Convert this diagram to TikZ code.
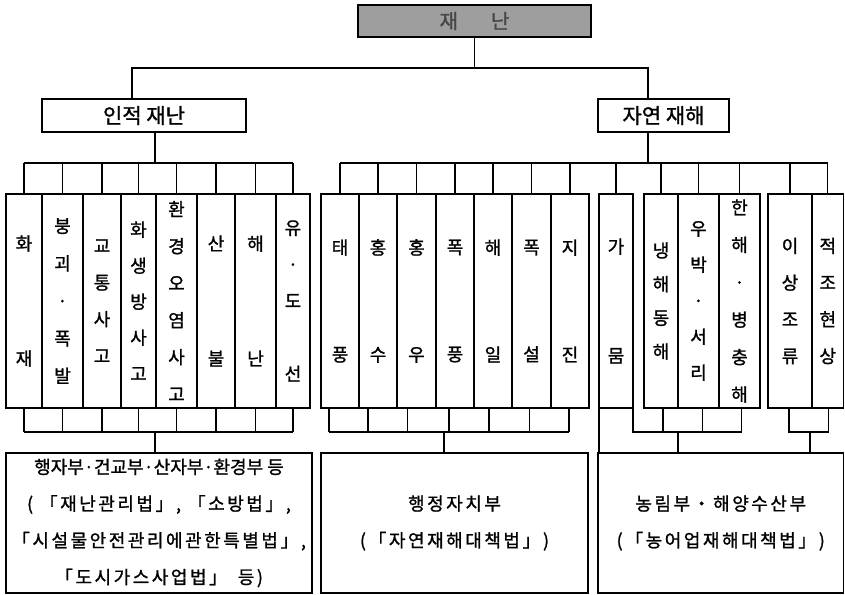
\documentclass[tikz,border=0pt]{standalone}
\usepackage{fontspec}
\setmainfont{Noto Sans CJK KR}[FakeBold=1.2]
\newfontfamily\lawfont{Noto Sans CJK KR}[FakeBold=1.2, LetterSpace=14]
\usetikzlibrary{calc}
\definecolor{topfill}{RGB}{158,158,158}
\definecolor{toptext}{RGB}{70,70,70}
\tikzset{
  conn/.style={line width=1.2pt},
  box/.style={draw, line width=1.2pt, rectangle, inner sep=0pt, outer sep=0pt},
  vbox/.style={box, minimum height=214pt, align=center},
  lawbox/.style={box, minimum height=140pt, align=center, font=\lawfont\fontsize{18}{36.7}\selectfont},
}
\newcommand\vbx[5]{\node[vbox, minimum width={#3-#2}, font={\fontsize{18}{#5}\selectfont}] (#1) at ({(#2+#3)/2},301) {#4};}
\begin{document}
\begin{tikzpicture}[x=1pt,y=-1pt]
\useasboundingbox (0,0) rectangle (845,594);
% top
\node[box, line width=2.2pt, fill=topfill, minimum width=233pt, minimum height=32pt,
      font=\fontsize{20}{22}\selectfont, text=toptext] (top) at (474.5,21) {재\hspace{33pt}난};
\node[box, minimum width=204pt, minimum height=33pt, font=\fontsize{21}{24}\selectfont] (inj) at (144,115.5) {인적 재난};
\node[box, minimum width=131pt, minimum height=33pt, font=\fontsize{21}{24}\selectfont] (nat) at (663.5,115.5) {자연 재해};
% left group
\vbx{b1}{6}{42}{화\\재}{115}
\vbx{b2}{42}{83}{붕\\괴\\·\\폭\\발}{37.5}
\vbx{b3}{83}{121}{교\\통\\사\\고}{36.7}
\vbx{b4}{121}{156}{화\\생\\방\\사\\고}{36}
\vbx{b5}{156}{197}{환\\경\\오\\염\\사\\고}{37}
\vbx{b6}{197}{235}{산\\불}{115}
\vbx{b7}{235}{276}{해\\난}{115}
\vbx{b8}{276}{310}{유\\·\\도\\\mbox{}\\선}{36.5}
% middle group
\vbx{m1}{321}{359}{태\\풍}{107}
\vbx{m2}{359}{397}{홍\\수}{107}
\vbx{m3}{397}{436}{홍\\우}{107}
\vbx{m4}{436}{474}{폭\\풍}{107}
\vbx{m5}{474}{512}{해\\일}{107}
\vbx{m6}{512}{551}{폭\\설}{107}
\vbx{m7}{551}{589}{지\\진}{107}
% right groups
\vbx{ga}{599}{633}{가\\뭄}{109}
\vbx{g1}{644}{678}{냉\\해\\동\\해}{33.7}
\vbx{g2}{678}{719}{우\\박\\·\\서\\리}{36}
\vbx{g3}{719}{760}{한\\해\\·\\병\\충\\해}{37.4}
\vbx{g4}{768}{812}{이\\상\\조\\류}{36.7}
\vbx{g5}{812}{843.5}{적\\조\\현\\상}{36.7}
% law boxes
\node[lawbox, minimum width=306pt] (L1) at (159,523)
  {{\rmfamily 행자부·건교부·산자부·환경부 등}\\( 「재난관리법」, 「소방법」,\\「시설물안전관리에관한특별법」,\\「도시가스사업법」\hspace{0.6em}등)};
\node[lawbox, minimum width=267pt] (L2) at (454.5,523) {행정자치부\\(「자연재해대책법」)};
\node[lawbox, minimum width=245.5pt] (L3) at (720.75,523) {농림부・해양수산부\\(「농어업재해대책법」)};
% level connectors
\coordinate (bus) at (474.5,68);
\draw[conn] (top.south) -- (bus);
\draw[conn] ([xshift=90pt]inj.north west) |- (bus);
\draw[conn] ([xshift=50pt]nat.north west) |- (bus);
% top combs
\coordinate (lc) at (155,163);
\draw[conn] ([xshift=113pt]inj.south west) -- (lc);
\draw[conn] (b1.north |- lc) -- (b8.north |- lc);
\foreach \n in {b1,b2,b3,b4,b5,b6,b7,b8} \draw[conn] (\n.north) -- (\n.north |- lc);
\coordinate (rc) at (648,163);
\draw[conn] ([xshift=50pt]nat.south west) -- (rc);
\draw[conn] (m1.north |- rc) -- (g5.north |- rc);
\foreach \n in {m1,m2,m3,m4,m5,m6,m7,ga,g1,g2,g3,g4,g5} \draw[conn] (\n.north) -- (\n.north |- rc);
% bottom combs
\coordinate (lb) at (155,432);
\foreach \n in {b1,b2,b3,b4,b5,b6,b7,b8} \draw[conn] (\n.south) -- (\n.south |- lb);
\draw[conn] (b1.south |- lb) -- (b8.south |- lb);
\draw[conn] (lb) -- (lb |- L1.north);
\coordinate (mb) at (444,432);
\foreach \n/\o in {m1/-11,m2/-10,m3/-9,m4/-6,m5/-4,m6/-2,m7/-1}
  \draw[conn] ([xshift=\o pt]\n.south) -- ([xshift=\o pt]\n.south |- mb);
\draw[conn] ([xshift=-11pt]m1.south |- mb) -- ([xshift=-1pt]m7.south |- mb);
\draw[conn] (mb) -- (mb |- L2.north);
\coordinate (rb) at (678,432);
\draw[conn] (ga.south east) -- (ga.south east |- rb) -- ([xshift=2pt]g3.south |- rb);
\foreach \n/\o in {g1/2,g2/4,g3/2}
  \draw[conn] ([xshift=\o pt]\n.south) -- ([xshift=\o pt]\n.south |- rb);
\draw[conn] (rb) -- (rb |- L3.north);
\draw[conn] (ga.south west) -- (ga.south west |- L3.north);
\coordinate (rb2) at (810,432);
\draw[conn] ([xshift=-1pt]g4.south) -- ([xshift=-1pt]g4.south |- rb2) -- ([xshift=1pt]g5.south |- rb2) -- ([xshift=1pt]g5.south);
\draw[conn] (rb2) -- (rb2 |- L3.north);
\end{tikzpicture}
\end{document}
